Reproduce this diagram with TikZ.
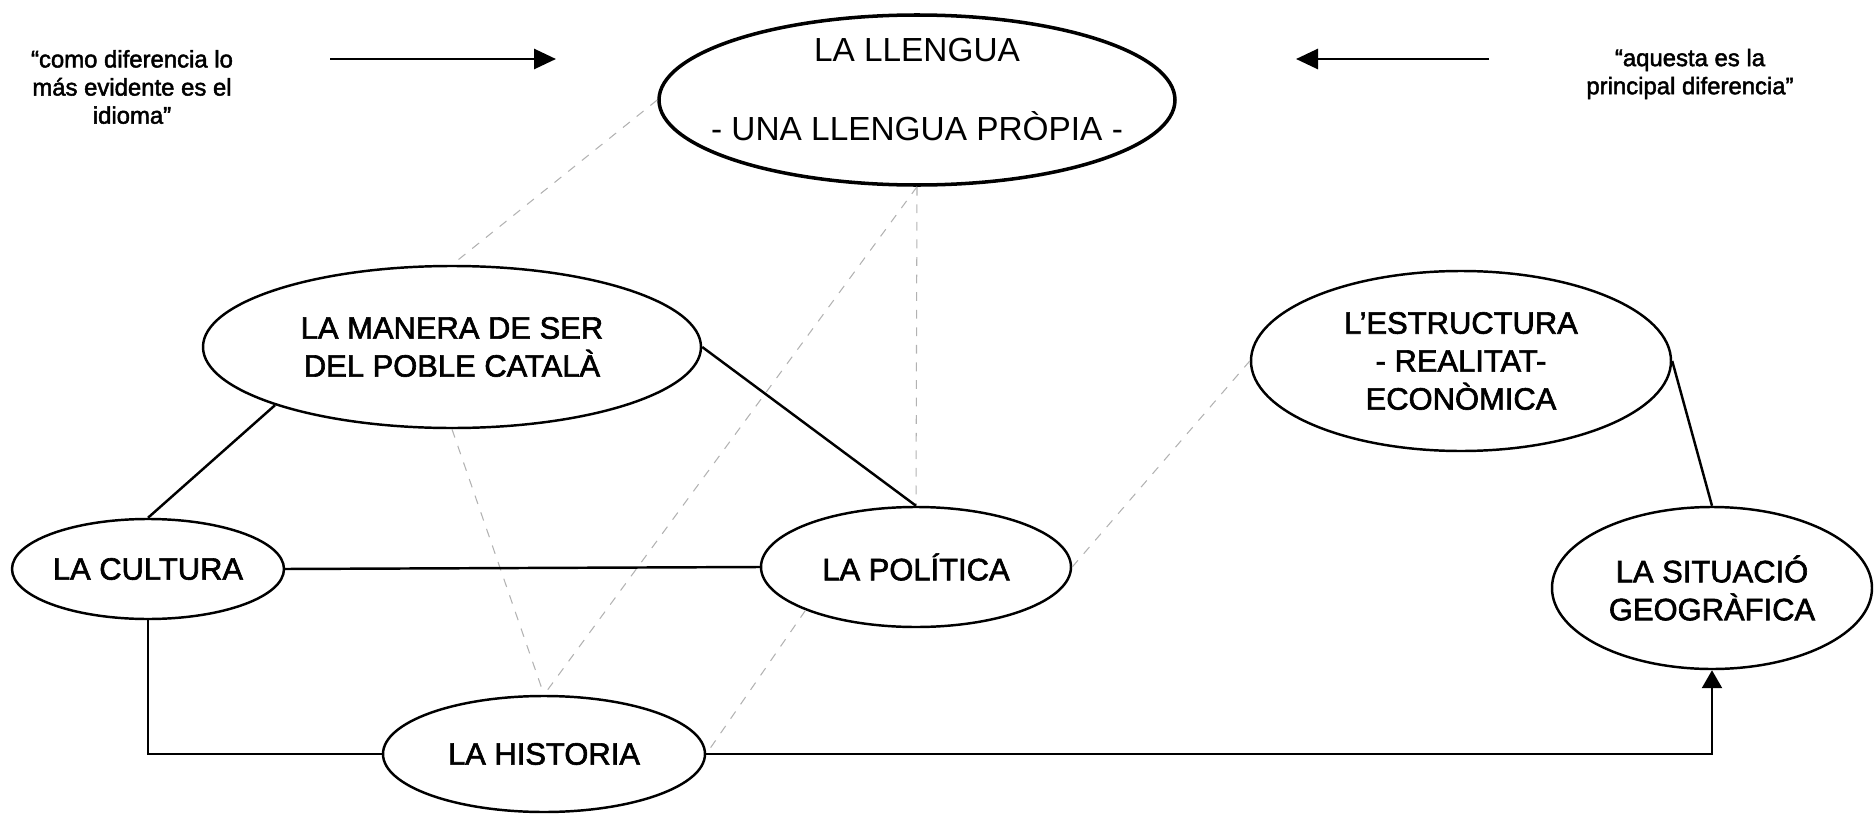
\documentclass[tikz,border=0pt]{standalone}
\usepackage{fontspec}
\setmainfont{Liberation Sans}
\newfontfamily\labelfont[FakeBold=2]{Liberation Sans}
\usetikzlibrary{arrows.meta,shapes.geometric}

\begin{document}
\begin{tikzpicture}[
    oval/.style={draw, ellipse, line width=0.7pt, align=center, inner sep=0pt,
      font=\labelfont\fontsize{8.8}{10.8}\selectfont},
    link/.style={line width=0.7pt},
    faint/.style={gray!60, line width=0.3pt, dash pattern=on 2.5pt off 2.5pt},
    quote/.style={align=center, font=\labelfont\fontsize{6.8}{8}\selectfont},
    tip/.style={line width=0.8pt, -{Triangle[length=2.2mm,width=2mm]}}
  ]
  \useasboundingbox (0,0) rectangle (18.75,8.13);

  % the ovals
  \node[oval, line width=1pt, inner xsep=-8pt, minimum width=5.16cm, minimum height=1.70cm,
    font=\fontsize{9.5}{11.4}\selectfont] (llengua) at (9.17,7.13)
    {\raisebox{2pt}[\height][\depth]{\begin{tabular}{@{}c@{}}LA LLENGUA\\[11pt]- UNA LLENGUA PRÒPIA -\end{tabular}}};
  \node[oval, minimum width=4.98cm, minimum height=1.62cm] (manera) at (4.52,4.66)
    {LA MANERA DE SER\\DEL POBLE CATALÀ};
  \node[oval, minimum width=4.2cm, minimum height=1.8cm] (estructura) at (14.61,4.52)
    {L’ESTRUCTURA\\- REALITAT-\\ECONÒMICA};
  \node[oval, minimum width=2.72cm, minimum height=1.0cm] (cultura) at (1.48,2.44) {LA CULTURA};
  \node[oval, minimum width=3.1cm, minimum height=1.2cm] (politica) at (9.16,2.46) {LA POLÍTICA};
  \node[oval, minimum width=3.2cm, minimum height=1.62cm] (situacio) at (17.12,2.25)
    {LA SITUACIÓ\\GEOGRÀFICA};
  \node[oval, minimum width=3.22cm, minimum height=1.16cm] (historia) at (5.44,0.59) {LA HISTORIA};

  % quotes and arrows at the top
  \node[quote] (quoteL) at (1.32,7.26) {“como diferencia lo\\más evidente es el\\idioma”};
  \node[quote] (quoteR) at (16.90,7.39) {“aquesta es la\\principal diferencia”};
  \coordinate (arrLa) at (3.30,7.54);
  \coordinate (arrLb) at (5.56,7.54);
  \coordinate (arrRa) at (14.89,7.54);
  \coordinate (arrRb) at (12.96,7.54);
  \draw[tip] (arrLa) -- (arrLb);
  \draw[tip] (arrRa) -- (arrRb);

  % faint links
  \draw[faint] (llengua.west) -- (manera.north);
  \draw[faint] (llengua.south) -- (historia.north);
  \draw[faint] (llengua.south) -- (politica.north);
  \draw[faint] (manera.south) -- (historia.north);
  \draw[faint] (politica.south west) -- (historia.east);
  \draw[faint] (politica.east) -- (estructura.west);

  % solid links
  \draw[link] (manera.south west) -- (cultura.north);
  \draw[link] (manera.east) -- (politica.north);
  \draw[link] (cultura.east) -- (politica.west);
  \draw[link] (cultura.south) |- (historia.west);
  \draw[link, -{Triangle[length=1.8mm,width=2mm]}] (historia.east) -| (situacio.south);
  \draw[link] (situacio.north) -- (estructura.east);
\end{tikzpicture}
\end{document}
